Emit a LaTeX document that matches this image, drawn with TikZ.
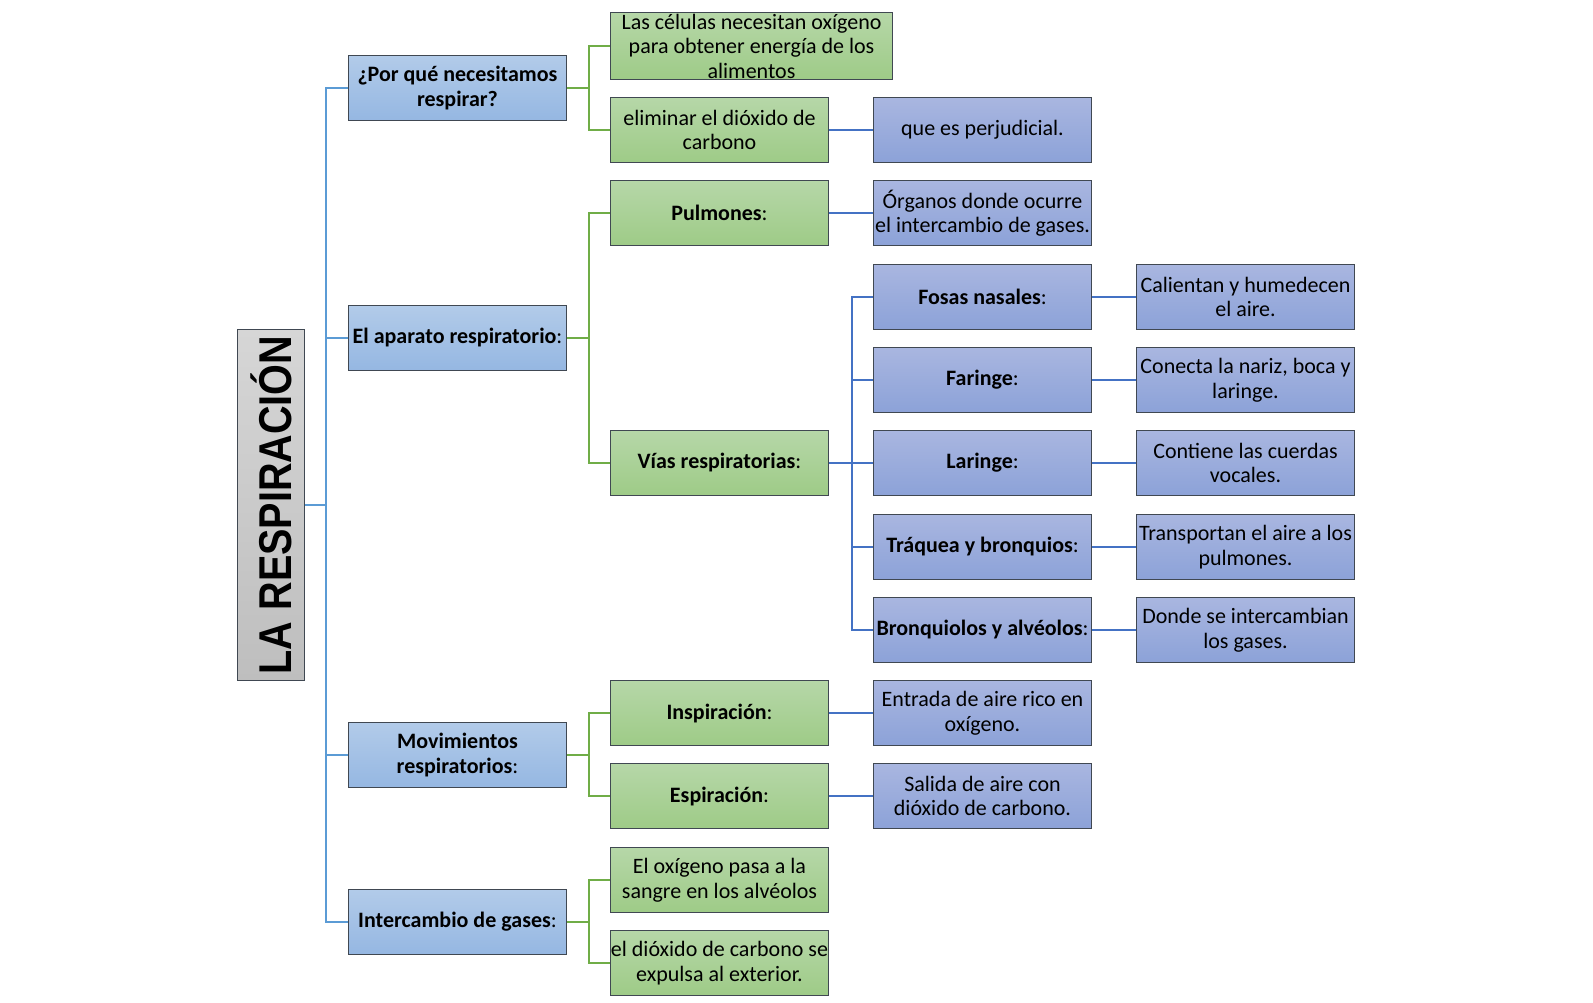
\documentclass[tikz,border=0pt]{standalone}
\usepackage{fontspec}
\setmainfont{Carlito}
\newfontfamily\titlefont{Liberation Sans}
\definecolor{bdr}{RGB}{64,72,82}
\definecolor{bluetop}{RGB}{178,203,233}
\definecolor{bluebot}{RGB}{149,183,226}
\definecolor{greentop}{RGB}{182,215,168}
\definecolor{greenbot}{RGB}{158,203,135}
\definecolor{purtop}{RGB}{169,182,224}
\definecolor{purbot}{RGB}{140,162,216}
\definecolor{graytop}{RGB}{214,214,214}
\definecolor{graybot}{RGB}{190,190,190}
\definecolor{lineone}{RGB}{91,155,213}
\definecolor{linetwo}{RGB}{112,173,71}
\definecolor{linethree}{RGB}{68,114,196}
\tikzset{
  box/.style={draw=bdr, line width=1.1pt, minimum width=218pt, minimum height=65pt,
    inner sep=1pt, align=center, font=\fontsize{22}{24.5}\selectfont},
  lvone/.style={box, top color=bluetop, bottom color=bluebot},
  lvtwo/.style={box, top color=greentop, bottom color=greenbot},
  lvthree/.style={box, top color=purtop, bottom color=purbot},
  cone/.style={draw=lineone, line width=2pt},
  ctwo/.style={draw=linetwo, line width=2pt},
  cthree/.style={draw=linethree, line width=2pt},
}
\newcommand{\fitline}[1]{\makebox[214pt][c]{#1}}
\begin{document}
\begin{tikzpicture}[x=1pt, y=-1pt]
\useasboundingbox (0,0) rectangle (1593,1002);
\coordinate (v1) at (326,0);
\coordinate (v2) at (589,0);
\coordinate (v3) at (852,0);
% title
\node[draw=bdr, line width=1.1pt, top color=graytop, bottom color=graybot,
  minimum width=67pt, minimum height=351pt, inner sep=0pt] (title) at (271,505) {};
\node[rotate=90, inner sep=0pt] (titletext) at (271,505)
  {\scalebox{0.86}[1]{\titlefont\fontsize{46}{50}\selectfont\bfseries LA RESPIRACIÓN}};
% level 1
\node[lvone] (q1) at (457.5,88) {\textbf{¿Por qué necesitamos}\\\textbf{respirar?}};
\node[lvone] (q2) at (457.5,338) {\textbf{El aparato respiratorio}:};
\node[lvone] (q3) at (457.5,755) {\textbf{Movimientos}\\\textbf{respiratorios}:};
\node[lvone] (q4) at (457.5,922) {\textbf{Intercambio de gases}:};
% level 2
\node[lvtwo, minimum width=282pt] (a1) at (751.5,46) {Las células necesitan oxígeno\\para obtener energía de los\\alimentos};
\node[lvtwo] (a2) at (719.5,130) {eliminar el dióxido de\\carbono};
\node[lvtwo] (a3) at (719.5,213) {\textbf{Pulmones}:};
\node[lvtwo] (a4) at (719.5,463) {\textbf{Vías respiratorias}:};
\node[lvtwo] (a5) at (719.5,713) {\textbf{Inspiración}:};
\node[lvtwo] (a6) at (719.5,796) {\textbf{Espiración}:};
\node[lvtwo] (a7) at (719.5,880) {El oxígeno pasa a la\\sangre en los alvéolos};
\node[lvtwo] (a8) at (719.5,963) {\fitline{el dióxido de carbono se}\\expulsa al exterior.};
% level 3
\node[lvthree] (b1) at (982.5,130) {que es perjudicial.};
\node[lvthree] (b2) at (982.5,213) {Órganos donde ocurre\\\fitline{el intercambio de gases.}};
\node[lvthree] (b3) at (982.5,297) {\textbf{Fosas nasales}:};
\node[lvthree] (b4) at (982.5,380) {\textbf{Faringe}:};
\node[lvthree] (b5) at (982.5,463) {\textbf{Laringe}:};
\node[lvthree] (b6) at (982.5,547) {\textbf{Tráquea y bronquios}:};
\node[lvthree] (b7) at (982.5,630) {\fitline{\textbf{Bronquiolos y alvéolos}:}};
\node[lvthree] (b8) at (982.5,713) {Entrada de aire rico en\\oxígeno.};
\node[lvthree] (b9) at (982.5,796) {Salida de aire con\\dióxido de carbono.};
% level 4
\node[lvthree] (d1) at (1245.5,297) {Calientan y humedecen\\el aire.};
\node[lvthree] (d2) at (1245.5,380) {Conecta la nariz, boca y\\laringe.};
\node[lvthree] (d3) at (1245.5,463) {Contiene las cuerdas\\vocales.};
\node[lvthree] (d4) at (1245.5,547) {\fitline{Transportan el aire a los}\\pulmones.};
\node[lvthree] (d5) at (1245.5,630) {Donde se intercambian\\los gases.};
% connectors level 1
\foreach \c in {q1,q2,q3,q4}
  \draw[cone] (title.east) -- (title.east -| v1) |- (\c.west);
% connectors level 2
\foreach \p/\c in {q1/a1,q1/a2,q2/a3,q2/a4,q3/a5,q3/a6,q4/a7,q4/a8}
  \draw[ctwo] (\p.east) -- (\p.east -| v2) |- (\c.west);
% connectors level 3
\draw[cthree] (a2.east) -- (b1.west);
\draw[cthree] (a3.east) -- (b2.west);
\draw[cthree] (a5.east) -- (b8.west);
\draw[cthree] (a6.east) -- (b9.west);
\foreach \c in {b3,b4,b5,b6,b7}
  \draw[cthree] (a4.east) -- (a4.east -| v3) |- (\c.west);
% connectors level 4
\draw[cthree] (b3.east) -- (d1.west);
\draw[cthree] (b4.east) -- (d2.west);
\draw[cthree] (b5.east) -- (d3.west);
\draw[cthree] (b6.east) -- (d4.west);
\draw[cthree] (b7.east) -- (d5.west);
\end{tikzpicture}
\end{document}
